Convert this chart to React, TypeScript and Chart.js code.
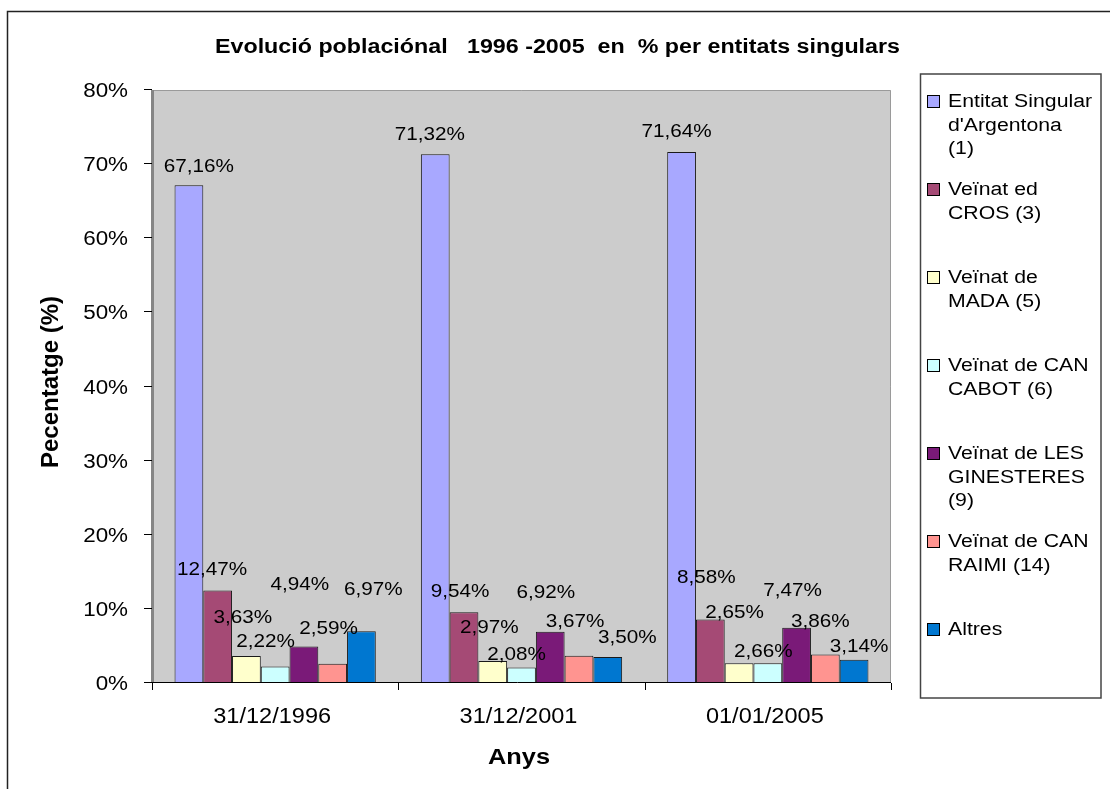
import React, { useEffect, useRef } from "react";
import { Chart, registerables } from "chart.js";

Chart.register(...registerables);

const categories = ["31/12/1996", "31/12/2001", "01/01/2005"];
const seriesNames = [
  "Entitat Singular d'Argentona (1)",
  "Veïnat ed CROS (3)",
  "Veïnat de MADA (5)",
  "Veïnat de CAN CABOT (6)",
  "Veïnat de LES GINESTERES (9)",
  "Veïnat de CAN RAIMI (14)",
  "Altres",
];
const entitat = [67.16, 71.32, 71.64];
const cros = [12.47, 9.54, 8.58];
const mada = [3.63, 2.97, 2.65];
const cabot = [2.22, 2.08, 2.66];
const ginesteres = [4.94, 6.92, 7.47];
const raimi = [2.59, 3.67, 3.86];
const altres = [6.97, 3.5, 3.14];
const seriesValues = [entitat, cros, mada, cabot, ginesteres, raimi, altres];
const seriesColors = ["#A8A8FF", "#A54A75", "#FFFFCC", "#CCFFFF", "#7A1A78", "#FF9490", "#0077D0"];
const yTicks = [0, 10, 20, 30, 40, 50, 60, 70, 80];
const legendLines = [
  ["Entitat Singular", "d'Argentona", "(1)"],
  ["Veïnat ed", "CROS (3)"],
  ["Veïnat de", "MADA (5)"],
  ["Veïnat de CAN", "CABOT (6)"],
  ["Veïnat de LES", "GINESTERES", "(9)"],
  ["Veïnat de CAN", "RAIMI (14)"],
  ["Altres"],
];
const chartTitle = "Evolució poblaciónal   1996 -2005  en  % per entitats singulars";
const xTitle = "Anys";
const yTitle = "Pecentatge (%)";

// label offsets (style): [dx, dy] from bar top centre to text centre
const labelOffsets = [
  [[10, -20], [-5.5, -21], [-5, -21.5]],
  [[-5.5, -22.5], [-4, -22], [-4, -43]],
  [[-3.5, -39.5], [-3.5, -35], [-4.5, -52.5]],
  [[-9.5, -26.5], [-5, -14], [-4.5, -13.5]],
  [[-4, -63.5], [-4.5, -41], [-4, -38.5]],
  [[-4, -37], [-4, -36], [-5, -34.5]],
  [[12, -43.5], [19.5, -21], [5, -15]],
];

const FONT = "'Liberation Sans', Arial, sans-serif";

function fmt(v: number) {
  return v.toFixed(2).replace(".", ",") + "%";
}

function drawText(
  ctx: CanvasRenderingContext2D,
  s: string,
  x: number,
  y: number,
  font: string,
  align: "left" | "center" | "right",
  sx: number,
  targetWidth?: number
) {
  ctx.save();
  ctx.font = font;
  ctx.textAlign = "left";
  ctx.textBaseline = "alphabetic";
  const nat = ctx.measureText(s).width;
  const scale = targetWidth ? targetWidth / nat : sx;
  const w = nat * scale;
  const x0 = align === "center" ? x - w / 2 : align === "right" ? x - w : x;
  ctx.translate(x0, y);
  ctx.scale(scale, 1);
  ctx.fillStyle = "#000";
  ctx.fillText(s, 0, 0);
  ctx.restore();
}

export default function App() {
  const ref = useRef<HTMLCanvasElement | null>(null);

  useEffect(() => {
    if (!ref.current) return;
    const decor = {
      id: "decor",
      beforeDraw(chart: any) {
        const ctx: CanvasRenderingContext2D = chart.ctx;
        const a = chart.chartArea;
        ctx.save();
        ctx.fillStyle = "#fff";
        ctx.fillRect(0, 0, chart.width, chart.height);
        ctx.fillStyle = "#CCCCCC";
        ctx.fillRect(a.left, a.top, a.right - a.left, a.bottom - a.top);
        // outer border
        ctx.strokeStyle = "#222";
        ctx.lineWidth = 1.5;
        ctx.strokeRect(7.5, 11.5, 1300, 1300);
        ctx.restore();
      },
      afterDatasetsDraw(chart: any) {
        const ctx: CanvasRenderingContext2D = chart.ctx;
        const a = chart.chartArea;
        const xs = chart.scales.x;
        const ys = chart.scales.y;
        ctx.save();
        // plot border top/right
        ctx.strokeStyle = "#9A9A9A";
        ctx.lineWidth = 1;
        ctx.beginPath();
        ctx.moveTo(a.left, a.top + 0.5);
        ctx.lineTo(a.right - 0.5, a.top + 0.5);
        ctx.lineTo(a.right - 0.5, a.bottom);
        ctx.stroke();
        // y axis line
        ctx.strokeStyle = "#858585";
        ctx.lineWidth = 3;
        ctx.beginPath();
        ctx.moveTo(a.left + 0.5, a.top);
        ctx.lineTo(a.left + 0.5, a.bottom);
        ctx.stroke();
        // y ticks
        ctx.strokeStyle = "#000";
        ctx.lineWidth = 1;
        yTicks.forEach((v) => {
          const py = Math.round(ys.getPixelForValue(v)) - 0.5;
          ctx.beginPath();
          ctx.moveTo(a.left - 8, py);
          ctx.lineTo(a.left, py);
          ctx.stroke();
          drawText(ctx, v + "%", a.left - 24, py + 7, `20px ${FONT}`, "right", 1.12);
        });
        // x axis
        ctx.beginPath();
        ctx.moveTo(a.left - 8, a.bottom - 0.5);
        ctx.lineTo(a.right, a.bottom - 0.5);
        ctx.stroke();
        const n = categories.length;
        for (let k = 0; k <= n; k++) {
          const px = Math.round(a.left + ((a.right - a.left) * k) / n) + 0.5;
          ctx.beginPath();
          ctx.moveTo(px, a.bottom);
          ctx.lineTo(px, a.bottom + 7);
          ctx.stroke();
        }
        categories.forEach((c, i) => {
          drawText(ctx, c, xs.getPixelForValue(i) - 3, 723, `22px ${FONT}`, "center", 1.07);
        });
        // data labels
        seriesValues.forEach((vals, si) => {
          const meta = chart.getDatasetMeta(si);
          vals.forEach((v, i) => {
            const el = meta.data[i];
            const [dx, dy] = labelOffsets[si][i];
            drawText(ctx, fmt(v), el.x + dx, el.y + dy + 6.8, `19px ${FONT}`, "center", 1.09);
          });
        });
        // titles
        drawText(ctx, chartTitle, 557.5, 53, `bold 20px ${FONT}`, "center", 1, 685);
        drawText(ctx, xTitle, 519, 764, `bold 22px ${FONT}`, "center", 1, 62);
        ctx.save();
        ctx.translate(58, 382);
        ctx.rotate(-Math.PI / 2);
        drawText(ctx, yTitle, 0, 0, `bold 23px ${FONT}`, "center", 1, 172);
        ctx.restore();
        // legend
        ctx.strokeStyle = "#444";
        ctx.lineWidth = 1.5;
        ctx.fillStyle = "#fff";
        ctx.fillRect(920.5, 74, 180.5, 624);
        ctx.strokeRect(920.5, 74, 180.5, 624);
        legendLines.forEach((lines, i) => {
          const base = 107 + 88 * i;
          ctx.fillStyle = seriesColors[i];
          ctx.fillRect(927.5, base - 11.5, 12, 12);
          ctx.strokeStyle = "#000";
          ctx.lineWidth = 1;
          ctx.strokeRect(927.5, base - 11.5, 12, 12);
          lines.forEach((ln, j) => {
            drawText(ctx, ln, 948, base + j * 23.5, `18px ${FONT}`, "left", 1.18);
          });
        });
        ctx.restore();
      },
    };

    const chart = new Chart(ref.current, {
      type: "bar",
      data: {
        labels: categories,
        datasets: seriesValues.map((vals, i) => ({
          label: seriesNames[i],
          data: vals,
          backgroundColor: seriesColors[i],
          borderColor: "#1a1a1a",
          borderWidth: 1,
          categoryPercentage: 0.817,
          barPercentage: 1.0,
        })),
      },
      options: {
        responsive: false,
        animation: false,
        devicePixelRatio: 1,
        layout: { padding: { left: 152, top: 90, right: 219, bottom: 106 } },
        plugins: {
          legend: { display: false },
          title: { display: false },
          tooltip: { enabled: false },
        },
        scales: {
          x: { display: false, offset: true },
          y: { display: false, min: 0, max: 80 },
        },
      },
      plugins: [decor],
    });
    return () => chart.destroy();
  }, []);

  return (
    <canvas
      ref={ref}
      width={1110}
      height={789}
      style={{ position: "absolute", left: 0, top: 0, display: "block" }}
    />
  );
}
